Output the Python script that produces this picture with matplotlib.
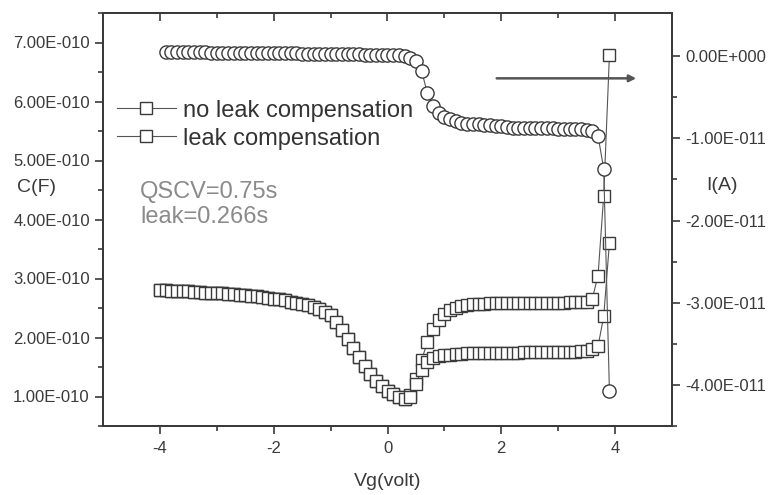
import numpy as np
import matplotlib
matplotlib.use("Agg")
import matplotlib.pyplot as plt

plt.rcParams['font.family'] = ['Liberation Sans', 'DejaVu Sans']
plt.rcParams['axes.unicode_minus'] = False

# gate voltage sweep (V)
vg_sq = np.round(np.arange(-4.0, 3.95, 0.1), 1)
vg_ci = np.round(np.arange(-3.9, 3.95, 0.1), 1)

# C-V, in units of 1e-10 F
c_common = [2.80, 2.80, 2.79, 2.79, 2.78, 2.78, 2.77, 2.77, 2.76, 2.76,
            2.75, 2.75, 2.74, 2.73, 2.72, 2.72, 2.71, 2.70, 2.69, 2.67,
            2.66, 2.65, 2.63, 2.61, 2.59, 2.57, 2.55, 2.52, 2.49, 2.44,
            2.38, 2.26, 2.12, 1.97, 1.82, 1.67, 1.52, 1.38, 1.26, 1.17,
            1.10, 1.04, 0.99, 0.96]
c_noleak_tail = [1.02, 1.30, 1.62, 1.92, 2.15, 2.30, 2.40, 2.46, 2.50, 2.53,
                 2.55, 2.56, 2.57, 2.57, 2.58, 2.58, 2.58, 2.58, 2.58, 2.58,
                 2.59, 2.58, 2.59, 2.59, 2.59, 2.59, 2.59, 2.59, 2.60, 2.60,
                 2.60, 2.60, 2.66, 3.05, 4.40, 6.78]
c_leak_tail = [1.00, 1.22, 1.45, 1.58, 1.65, 1.68, 1.70, 1.71, 1.72, 1.72,
               1.73, 1.73, 1.73, 1.73, 1.74, 1.74, 1.74, 1.74, 1.74, 1.74,
               1.75, 1.75, 1.75, 1.75, 1.75, 1.75, 1.76, 1.76, 1.76, 1.76,
               1.77, 1.77, 1.80, 1.85, 2.36, 3.60]
c_noleak = np.array(c_common + c_noleak_tail) * 1e-10
c_leak = np.array(c_common + c_leak_tail) * 1e-10

# leakage current, in units of 1e-11 A
i_leak = np.array([0.05, 0.05, 0.05, 0.05, 0.05, 0.05, 0.05, 0.05, 0.04, 0.04,
                   0.04, 0.04, 0.04, 0.04, 0.04, 0.04, 0.04, 0.04, 0.04, 0.04,
                   0.04, 0.04, 0.04, 0.04, 0.03, 0.03, 0.03, 0.03, 0.03, 0.03,
                   0.03, 0.03, 0.03, 0.03, 0.03, 0.02, 0.02, 0.02, 0.02, 0.02,
                   0.02, 0.01, 0.00,
                   -0.02, -0.06, -0.18, -0.45, -0.61, -0.69, -0.74, -0.77, -0.79, -0.81,
                   -0.82, -0.83, -0.83, -0.84, -0.84, -0.85, -0.85, -0.86, -0.87, -0.87,
                   -0.87, -0.88, -0.88, -0.88, -0.88, -0.88, -0.89, -0.89, -0.89, -0.89,
                   -0.89, -0.90, -0.91, -0.97, -1.37, -4.07]) * 1e-11

c_ticks = [1e-10, 2e-10, 3e-10, 4e-10, 5e-10, 6e-10, 7e-10]
c_labels = ["1.00E-010", "2.00E-010", "3.00E-010", "4.00E-010",
            "5.00E-010", "6.00E-010", "7.00E-010"]
i_ticks = [0.0, -1e-11, -2e-11, -3e-11, -4e-11]
i_labels = ["0.00E+000", "-1.00E-011", "-2.00E-011", "-3.00E-011", "-4.00E-011"]
x_ticks = [-4, -2, 0, 2, 4]

ink = '#3a3a3a'
fig = plt.figure(figsize=(7.71, 4.95), dpi=100)
ax = fig.add_axes([103/771, 1-426/495, (672-103)/771, (426-13)/495])
ax2 = ax.twinx()

mk = dict(marker='s', markersize=8.3, markerfacecolor='white',
          markeredgecolor=ink, markeredgewidth=1.0, color='#555555', linewidth=0.8)
ax.plot(vg_sq, c_noleak, label='no leak compensation', **mk)
ax.plot(vg_sq, c_leak, label='leak compensation', **mk)
ax2.plot(vg_ci, i_leak, marker='o', markersize=9.5, markerfacecolor='white',
         markeredgecolor=ink, markeredgewidth=1.0, color='#555555', linewidth=0.8)

ax.set_xlim(-5, 5)
ax.set_ylim(0.5e-10, 7.5e-10)
ax2.set_ylim(-4.41e-11, 0.525e-11)

ax.set_xticks(x_ticks)
ax.set_xticks([-3, -1, 1, 3], minor=True)
ax.set_yticks(c_ticks)
ax.set_yticklabels(c_labels)
ax.set_yticks(np.arange(0.5e-10, 7.6e-10, 1e-10), minor=True)
ax2.set_yticks(i_ticks)
ax2.set_yticklabels(i_labels)
ax2.set_yticks([-4.0e-11 + k * 1e-11 for k in [-0.5, 0.5, 1.5, 2.5, 3.5]], minor=True)

for a in (ax, ax2):
    for s in a.spines.values():
        s.set_color(ink)
        s.set_linewidth(1.4)
    a.tick_params(which='both', direction='out', colors=ink, labelsize=12, width=1.2)
    a.tick_params(which='major', length=6)
    a.tick_params(which='minor', length=3.5)
ax.tick_params(axis='x', pad=5)

top = ax.secondary_xaxis('top')
top.set_xticks(x_ticks)
top.set_xticks([-3, -1, 1, 3], minor=True)
top.tick_params(which='both', direction='in', labeltop=False, colors=ink, width=1.2)
top.tick_params(which='major', length=6)
top.tick_params(which='minor', length=3.5)
top.spines['top'].set_linewidth(1.4)
top.spines['top'].set_color(ink)

ax.set_xlabel('Vg(volt)', fontsize=14, color=ink, labelpad=12)
fig.text(37/771, 1-188/495, 'C(F)', fontsize=14, color=ink, ha='center', va='center')
fig.text(722/771, 1-185/495, 'I(A)', fontsize=14, color=ink, ha='center', va='center')

ax.text(0.065, 0.567, 'QSCV=0.75s', transform=ax.transAxes, fontsize=17,
        color='#8a8a8a', va='center')
ax.text(0.065, 0.505, 'leak=0.266s', transform=ax.transAxes, fontsize=17,
        color='#8a8a8a', va='center')

ax2.annotate('', xy=(4.42, -0.27e-11), xytext=(1.87, -0.27e-11),
             arrowprops=dict(arrowstyle='-|>', color='#555555', lw=1.8,
                             mutation_scale=10))

leg = ax.legend(loc='upper left', bbox_to_anchor=(-0.005, 0.83), frameon=False,
                fontsize=17, handlelength=2.5, handletextpad=0.3, labelspacing=0.25,
                borderaxespad=0.3)
for t in leg.get_texts():
    t.set_color('#333333')

fig.savefig('out.png', dpi=100, facecolor='white')
